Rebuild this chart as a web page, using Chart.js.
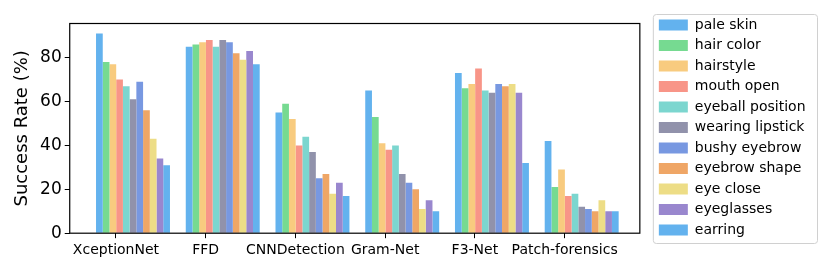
<!DOCTYPE html>
<html>
<head>
<meta charset="utf-8">
<script src="https://cdn.jsdelivr.net/npm/chart.js@4/dist/chart.umd.min.js"></script>
<style>
  html, body { margin: 0; padding: 0; background: #fff; }
  #wrap { width: 830px; height: 270px; }
</style>
</head>
<body>
<div id="wrap"><canvas id="myChart" width="830" height="270"></canvas></div>
<script>
// detectors on the x axis
var groups = ['XceptionNet', 'FFD', 'CNNDetection', 'Gram-Net', 'F3-Net', 'Patch-forensics'];

// one array per attribute (success rate %, per detector)
var paleSkin        = [91, 85, 55, 65, 73, 42];
var hairColor       = [78, 86, 59, 53, 66, 21];
var hairstyle       = [77, 87, 52, 41, 68, 29];
var mouthOpen       = [70, 88, 40, 38, 75, 17];
var eyeballPosition = [67, 85, 44, 40, 65, 18];
var wearingLipstick = [61, 88, 37, 27, 64, 12];
var bushyEyebrow    = [69, 87, 25, 23, 68, 11];
var eyebrowShape    = [56, 82, 27, 20, 67, 10];
var eyeClose        = [43, 79, 18, 11, 68, 15];
var eyeglasses      = [34, 83, 23, 15, 64, 10];
var earring         = [31, 77, 17, 10, 32, 10];

var yTicks = [0, 20, 40, 60, 80];

var series = [
    ['pale skin', paleSkin, '#63b2ee'],
    ['hair color', hairColor, '#76da91'],
    ['hairstyle', hairstyle, '#f8cb7f'],
    ['mouth open', mouthOpen, '#f89588'],
    ['eyeball position', eyeballPosition, '#7cd6cf'],
    ['wearing lipstick', wearingLipstick, '#9192ab'],
    ['bushy eyebrow', bushyEyebrow, '#7898e1'],
    ['eyebrow shape', eyebrowShape, '#efa666'],
    ['eye close', eyeClose, '#eddd86'],
    ['eyeglasses', eyeglasses, '#9987ce'],
    ['earring', earring, '#63b2ee']
];

// tick labels sit a bit left of the bar group centre, like the original plot
var tickShift = 0.19;
// gap between plot frame and legend
var legendGap = 12.5;

var datasets = series.map(function (s) {
    return {
        label: s[0],
        data: s[1].map(function (v, i) { return { x: i, y: v }; }),
        backgroundColor: s[2],
        borderWidth: 0,
        categoryPercentage: 0.824,
        barPercentage: 1.0
    };
});

// box around the plot area + frame around the legend
var framePlugin = {
    id: 'frame',
    afterLayout: function (chart) {
        // push the legend a little to the right of the plot
        chart.legend.left += legendGap;
        chart.legend.right += legendGap;
    },
    afterDraw: function (chart) {
        var ctx = chart.ctx, a = chart.chartArea;
        ctx.save();
        ctx.strokeStyle = '#000';
        ctx.lineWidth = 1.2;
        ctx.strokeRect(a.left, a.top, a.right - a.left, a.bottom - a.top);

        var boxes = chart.legend.legendHitBoxes;
        if (boxes && boxes.length) {
            var x0 = Infinity, y0 = Infinity, x1 = -Infinity, y1 = -Infinity;
            boxes.forEach(function (b) {
                x0 = Math.min(x0, b.left); y0 = Math.min(y0, b.top);
                x1 = Math.max(x1, b.left + b.width); y1 = Math.max(y1, b.top + b.height);
            });
            ctx.strokeStyle = '#d0d0d0';
            ctx.lineWidth = 1;
            ctx.beginPath();
            ctx.roundRect(x0 - 5.5, y0 - 3.5, (x1 - x0) + 17.5, (y1 - y0) + 10, 3);
            ctx.stroke();
        }
        ctx.restore();
    }
};

var ctx = document.getElementById('myChart').getContext('2d');

var myChart = new Chart(ctx, {
    type: 'bar',
    data: { datasets: datasets },
    options: {
        responsive: false,
        animation: false,
        layout: { padding: { left: 11.5, right: 27, top: 11.5, bottom: 7 } },
        font: { family: 'DejaVu Sans' },
        plugins: {
            tooltip: { enabled: false },
            legend: {
                position: 'right',
                align: 'start',
                labels: {
                    boxWidth: 29,
                    boxHeight: 11,
                    padding: 6.5,
                    color: '#000',
                    font: { family: 'DejaVu Sans', size: 14 }
                }
            }
        },
        scales: {
            x: {
                type: 'linear',
                offset: false,
                min: -0.705,
                max: 5.648,
                grid: { display: true, offset: false, drawOnChartArea: false, color: '#000', tickLength: 5 },
                border: { display: false },
                afterBuildTicks: function (scale) {
                    scale.ticks = groups.map(function (g, i) { return { value: i - tickShift }; });
                },
                ticks: {
                    autoSkip: false,
                    maxRotation: 0,
                    color: '#000',
                    padding: 4,
                    font: { family: 'DejaVu Sans', size: 14 },
                    callback: function (value, index) { return groups[index]; }
                }
            },
            // empty spacer axis: room above the plot
            xTop: {
                type: 'linear',
                position: 'top',
                grid: { display: false },
                border: { display: false },
                ticks: { display: false },
                afterFit: function (scale) { scale.height = 12; }
            },
            y: {
                min: 0,
                max: 95.55,
                grid: { display: true, drawOnChartArea: false, color: '#000', tickLength: 5 },
                border: { display: false },
                afterBuildTicks: function (scale) {
                    scale.ticks = yTicks.map(function (v) { return { value: v }; });
                },
                ticks: {
                    color: '#000',
                    padding: 3,
                    font: { family: 'DejaVu Sans', size: 17 }
                },
                title: {
                    display: true,
                    text: 'Success Rate (%)',
                    color: '#000',
                    padding: { top: 0, bottom: 4 },
                    font: { family: 'DejaVu Sans', size: 18 }
                }
            }
        }
    },
    plugins: [framePlugin]
});
</script>
</body>
</html>
